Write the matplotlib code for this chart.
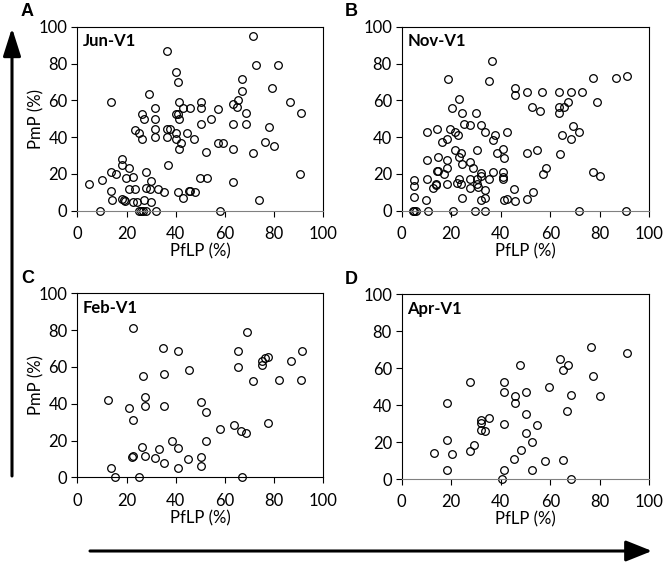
import matplotlib
matplotlib.use("Agg")
import matplotlib.pyplot as plt
from matplotlib.patches import FancyArrowPatch

plt.rcParams['font.family'] = ['Lato', 'DejaVu Sans']

# Jun-V1
jun_pflp = [71.5, 36.3, 72.6, 81.7, 40.1, 41, 66.8, 66.8, 79, 29.3, 13.7, 41.3, 50.1, 86.4, 63.4,
            65.3, 65, 31.6, 42.8, 45.7, 50.1, 57.2, 90.9, 68.4, 26.2, 40, 41, 27.2, 31.7, 41.3,
            54.5, 50.1, 63.3, 68.4, 77.8, 23.6, 24.9, 26.4, 31.7, 31.7, 36.3, 37.7, 36.3, 40, 40,
            44.5, 42, 41.2, 47.4, 57.2, 59.1, 52.4, 63.4, 71.5, 76.3, 80.1, 36.9, 18.2, 18.2, 21.1,
            13.7, 15.8, 19.9, 22.7, 27.8, 30, 4.6, 10, 21.1, 23.6, 27.8, 29.5, 33, 35.2, 13.7,
            40.9, 45.8, 45.4, 47.8, 49.9, 52.7, 63.4, 90.5, 42.8, 14.1, 18.2, 19, 19.4, 22.7, 24.1,
            27.2, 30, 73.7, 9.2, 24.9, 25.9, 26.8, 27.8, 32, 58.1]
jun_pmp = [94.9, 87, 79.2, 79.2, 75.2, 70.1, 71.6, 65, 66.8, 63.2, 58.9, 58.9, 58.9, 58.9, 58.2,
           60.1, 56.3, 55.6, 55.6, 55.6, 55.6, 55.1, 52.9, 53.3, 52.5, 52.5, 52.4, 49.8, 49.8, 49.8,
           49.8, 47.3, 47.3, 47.3, 45.5, 43.8, 42, 38.9, 44.4, 40, 44.4, 44.4, 40, 42, 38.9,
           42, 36.8, 33.5, 38.9, 36.8, 36.8, 31.7, 33.3, 31.3, 37.3, 35.1, 25, 27.9, 25, 23,
           21, 20.1, 17.6, 18.5, 21, 15.9, 14.5, 16.8, 11.6, 11.6, 12.5, 11.6, 11.6, 10, 10.9,
           10.3, 10.9, 10.9, 10.3, 17.6, 17.6, 15.8, 19.9, 6.7, 5.6, 6.2, 5.6, 5.3, 4.9, 4.9,
           5.6, 4.9, 5.6, 0, 0, 0, 0, 0, 0, 0]

# Nov-V1
nov_pflp = [36.6, 35.4, 18.6, 23.3, 20.5, 24.2, 29.9, 25.3, 27.6, 32.2, 33.6, 10.4, 14.1, 19.4, 21.4,
            22.6, 18.4, 16.2, 37.7, 37, 42.4, 21.5, 30.3, 23.8, 23, 14.7, 10.1, 18.4, 24.2, 27.6,
            28.9, 18.4, 14.1, 14.7, 17.1, 10.1, 23, 27.4, 30.3, 31.9, 31.9, 35.1, 36.8, 41, 41,
            41, 5.1, 5.1, 13.9, 13.9, 12.8, 18.4, 22.2, 23.9, 27.6, 30.3, 30.8, 33.6, 5.1, 9.7,
            24.2, 32, 33.6, 41.3, 42.4, 45.8, 45.4, 50.5, 52.9, 41, 41.5, 38.4, 50.5, 54.8, 58.1,
            57.2, 63.8, 45.8, 45.8, 50.5, 56.5, 52.6, 55.9, 63.4, 68.5, 72.9, 67, 63.7, 65.4, 63.7,
            64.9, 69.1, 68.5, 71.5, 77.4, 86.4, 90.8, 79, 77.4, 80.1, 4.4, 5.1, 5.8, 10.5, 20.6,
            29.7, 33.5, 71.5, 90.6]
nov_pmp = [81.3, 70.5, 71.6, 60.9, 55.6, 52.9, 52.9, 47.3, 46.7, 46.7, 42.9, 42.9, 44.4, 44.4, 42.9,
           41.1, 38.9, 37.1, 41.1, 38.4, 42.9, 33.2, 33.2, 31.2, 29.3, 29.3, 27.7, 27.7, 25.2, 26.3,
           23, 23, 21.4, 21.4, 20.1, 17.4, 17.4, 17.4, 17.4, 20.7, 19, 17.4, 21.2, 21.2, 18.5,
           17.4, 16.5, 13.4, 14.5, 13.8, 12.5, 14.3, 15.2, 14.3, 12.5, 14.3, 13, 11.1, 7.4, 6,
           7.1, 5.6, 7.1, 6, 6.5, 5.1, 11.6, 6.5, 10.1, 33.7, 28.6, 31.2, 31.2, 33.2, 23.2,
           20.1, 30.8, 66.7, 63, 64.5, 64.5, 56.3, 54, 64.5, 64.5, 64.5, 59.1, 56.3, 56.3, 53.3,
           41.1, 46, 38.9, 42.9, 72.3, 72.3, 73.4, 59.1, 21, 18.7, 0, 0, 0, 0, 0,
           0, 0, 0, 0]

# Feb-V1
feb_pflp = [22.8, 35, 41, 65.2, 91.2, 69, 26.6, 35.4, 45.6, 65.2, 75.2, 75.2, 76.3, 77.7, 86.7,
            71.6, 82, 91, 12.6, 21.1, 27.4, 27.4, 35.4, 50.1, 52.5, 22.8, 58, 63.9, 66.7, 68.6,
            77.6, 38.3, 40.9, 52.5, 26.4, 33.3, 22.1, 22.8, 27.4, 31.7, 35.4, 45.2, 50.1, 50.1, 40.9,
            13.7, 15.2, 25.2, 67]
feb_pmp = [81.3, 70.1, 68.7, 68.8, 68.7, 79.2, 55.1, 56.3, 58.2, 60.1, 61, 63, 65, 65.2, 63.4,
           52.5, 52.7, 53.1, 42, 37.5, 43.7, 38.9, 38.9, 41.1, 35.3, 31.2, 26.3, 28.4, 25.2, 23.9,
           29.3, 20, 15.8, 20, 16.7, 15.4, 10.9, 11.6, 11.6, 10.3, 7.6, 10, 11, 6.2, 5,
           5.3, 0, 0, 0]

# Apr-V1
apr_pflp = [76.4, 90.8, 63.8, 67, 47.8, 65.3, 77.4, 27.7, 41.2, 41.2, 50.2, 59.4, 45.9, 45.9, 68.2,
            80.2, 18.4, 50.3, 66.9, 35.4, 32, 32, 32, 33.6, 41.2, 54.8, 50.3, 52.6, 18.4, 29,
            13.1, 20.5, 27.4, 48, 45.3, 58, 65.3, 18.4, 41.2, 52.6, 40.4, 68.5]
apr_pmp = [71.3, 68.4, 65, 61.7, 61.9, 58.8, 55.6, 52.3, 52.5, 47.3, 47.1, 50, 45.1, 41.2, 45.5,
           44.9, 41.2, 35, 36.6, 33.2, 31.9, 30.1, 26.5, 26, 30, 29.2, 24.9, 20, 20.9, 18.2,
           14.3, 13.5, 15, 15.7, 10.8, 9.9, 10.5, 5.1, 4.7, 5.1, 0, 0]

panels = [
    ("A", "Jun-V1", jun_pflp, jun_pmp, [77.3, 26.7, 246, 184], True, '#808080'),
    ("B", "Nov-V1", nov_pflp, nov_pmp, [401.7, 26.7, 247.6, 184], False, '#808080'),
    ("C", "Feb-V1", feb_pflp, feb_pmp, [77.3, 293.3, 246, 184], True, 'black'),
    ("D", "Apr-V1", apr_pflp, apr_pmp, [401.7, 294.3, 247.6, 184.7], False, '#808080'),
]

W, H = 666, 563
fig = plt.figure(figsize=(W / 100, H / 100), dpi=100)

for letter, name, xs, ys, box, show_ylabel, bottom_col in panels:
    l, t, w, h = box
    ax = fig.add_axes([l / W, (H - t - h) / H, w / W, h / H])
    ax.plot(xs, ys, 'o', mfc='none', mec='black', ms=5.5, mew=0.9, clip_on=False)
    ax.set_xlim(0, 100)
    ax.set_ylim(0, 100)
    ax.set_xticks(range(0, 101, 20))
    ax.set_yticks(range(0, 101, 20))
    ax.tick_params(direction='out', length=4, width=0.8, labelsize=12)
    ax.tick_params(axis='x', pad=7)
    ax.tick_params(axis='y', pad=3)
    for s in ax.spines.values():
        s.set_linewidth(0.8)
    ax.spines['bottom'].set_color(bottom_col)
    ax.set_xlabel("PfLP (%)", fontsize=12, labelpad=1)
    if show_ylabel:
        ax.set_ylabel("PmP (%)", fontsize=12)
        ax.yaxis.set_label_coords(-0.135, 0.5)
    ax.text(0.022, 0.92, name, transform=ax.transAxes, fontsize=12, fontweight='bold',
            ha='left', va='center')
    fig.text((l - 50) / W, 1 - (t - 15) / H, letter, fontsize=13, fontweight='bold',
             family='Liberation Sans', ha='center', va='center')

# big arrows
fig.patches.append(FancyArrowPatch((12 / W, 1 - 476 / H), (12 / W, 1 - 28 / H),
                                   transform=fig.transFigure, arrowstyle='-|>,head_length=0.85,head_width=0.27',
                                   mutation_scale=20, lw=2.2, color='black', shrinkA=0, shrinkB=0))
fig.patches.append(FancyArrowPatch((90 / W, 1 - 551 / H), (652 / W, 1 - 551 / H),
                                   transform=fig.transFigure, arrowstyle='-|>,head_length=0.8,head_width=0.32',
                                   mutation_scale=20, lw=2.2, color='black', shrinkA=0, shrinkB=0))

fig.savefig("out.png", dpi=100)
